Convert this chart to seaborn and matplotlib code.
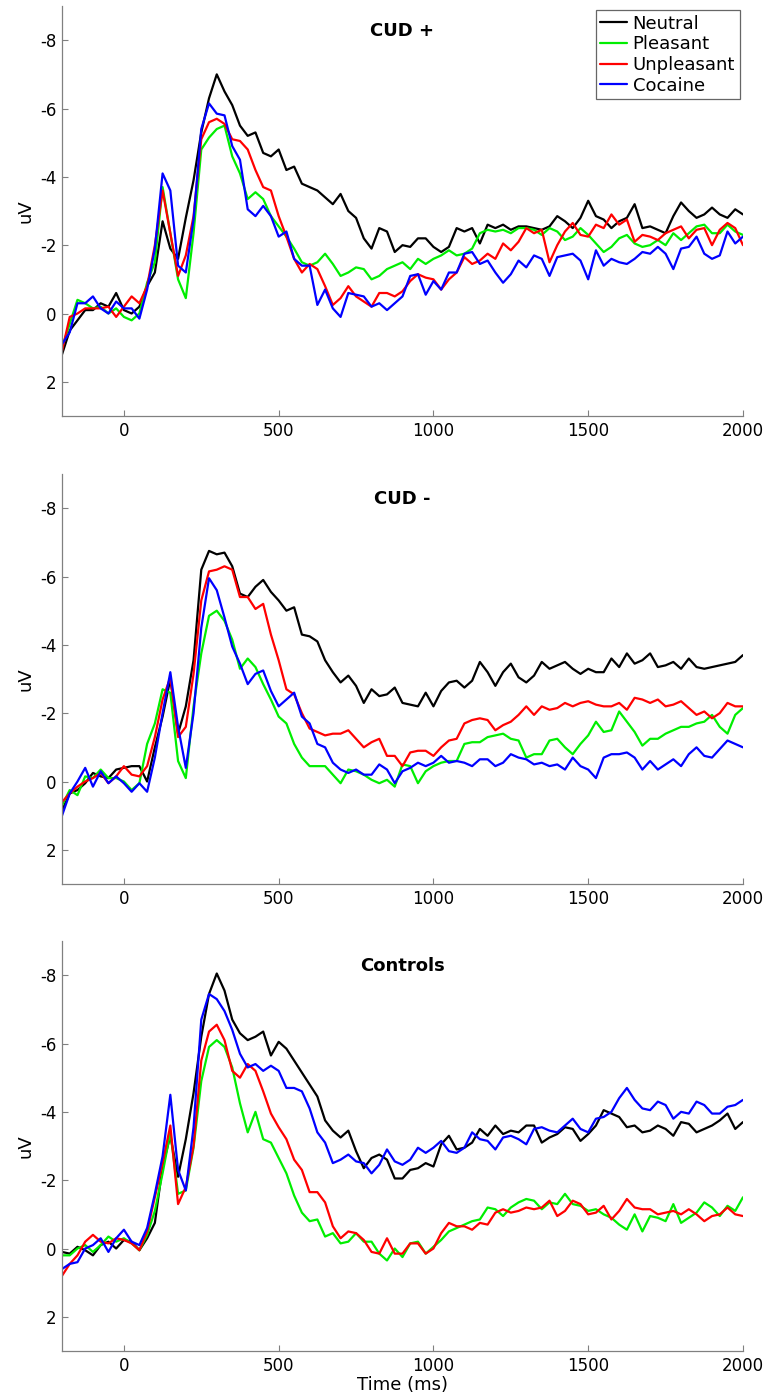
import matplotlib
matplotlib.use("Agg")
import matplotlib.pyplot as plt
import pandas as pd
import seaborn as sns

# Grand-average ERP waveforms (uV), sampled every 25 ms from -200 to 2000 ms
time_ms = list(range(-200, 2001, 25))
conditions = ["Neutral", "Pleasant", "Unpleasant", "Cocaine"]
line_colors = ["#000000", "#00ee00", "#ff0000", "#0000ff"]
panel_titles = ["CUD +", "CUD -", "Controls"]
x_ticks = [0, 500, 1000, 1500, 2000]
y_ticks = [-8, -6, -4, -2, 0, 2]

# ---- CUD + ----
cudp_neutral = [
    1.2, 0.5, 0.2, -0.1, -0.1, -0.3, -0.2, -0.6,
    -0.1, 0.0, -0.2, -0.8, -1.2, -2.7, -1.9, -1.6,
    -2.8, -3.9, -5.3, -6.3, -7.0, -6.5, -6.1, -5.5,
    -5.2, -5.3, -4.7, -4.6, -4.8, -4.2, -4.3, -3.8,
    -3.7, -3.6, -3.4, -3.2, -3.5, -3.0, -2.8, -2.2,
    -1.9, -2.5, -2.4, -1.8, -2.0, -1.95, -2.2, -2.2,
    -1.95, -1.8, -1.95, -2.5, -2.4, -2.5, -2.05, -2.6,
    -2.5, -2.6, -2.45, -2.55, -2.55, -2.5, -2.45, -2.55,
    -2.85, -2.7, -2.5, -2.8, -3.3, -2.85, -2.75, -2.5,
    -2.7, -2.8, -3.2, -2.5, -2.55, -2.45, -2.35, -2.85,
    -3.25, -3.0, -2.8, -2.9, -3.1, -2.9, -2.8, -3.05,
    -2.9]
cudp_pleasant = [
    1.0, 0.3, -0.4, -0.3, -0.15, -0.2, 0.0, -0.15,
    0.1, 0.2, 0.0, -0.9, -1.5, -3.7, -2.35, -1.0,
    -0.45, -2.35, -4.8, -5.15, -5.4, -5.5, -4.6, -4.1,
    -3.35, -3.55, -3.35, -2.85, -2.55, -2.25, -1.9, -1.5,
    -1.4, -1.5, -1.75, -1.45, -1.1, -1.2, -1.35, -1.3,
    -1.0, -1.1, -1.3, -1.4, -1.5, -1.3, -1.6, -1.45,
    -1.6, -1.7, -1.85, -1.7, -1.75, -1.9, -2.35, -2.45,
    -2.4, -2.45, -2.35, -2.5, -2.5, -2.45, -2.3, -2.5,
    -2.4, -2.15, -2.25, -2.5, -2.3, -2.05, -1.8, -1.95,
    -2.2, -2.3, -2.05, -1.95, -2.0, -2.15, -2.0, -2.35,
    -2.15, -2.35, -2.55, -2.6, -2.35, -2.35, -2.6, -2.4,
    -2.3]
cudp_unpleasant = [
    1.1, 0.1, 0.0, -0.15, -0.15, -0.15, -0.2, 0.1,
    -0.2, -0.5, -0.3, -0.8, -2.0, -3.6, -2.35, -1.1,
    -1.7, -2.85, -5.1, -5.6, -5.7, -5.55, -5.1, -5.05,
    -4.8, -4.2, -3.7, -3.6, -2.85, -2.25, -1.6, -1.2,
    -1.45, -1.3, -0.8, -0.25, -0.45, -0.8, -0.5, -0.35,
    -0.2, -0.6, -0.6, -0.5, -0.65, -0.95, -1.15, -1.05,
    -1.0, -0.7, -1.0, -1.2, -1.65, -1.45, -1.55, -1.75,
    -1.6, -2.05, -1.85, -2.1, -2.5, -2.35, -2.45, -1.5,
    -2.0, -2.4, -2.65, -2.3, -2.25, -2.6, -2.5, -2.9,
    -2.6, -2.75, -2.1, -2.3, -2.25, -2.15, -2.35, -2.45,
    -2.55, -2.2, -2.45, -2.5, -2.0, -2.45, -2.65, -2.5,
    -2.0]
cudp_cocaine = [
    0.9, 0.55, -0.3, -0.3, -0.5, -0.15, 0.0, -0.35,
    -0.15, -0.15, 0.15, -0.7, -1.9, -4.1, -3.6, -1.4,
    -1.2, -2.75, -5.4, -6.15, -5.85, -5.8, -4.9, -4.5,
    -3.05, -2.85, -3.15, -2.85, -2.25, -2.4, -1.6, -1.4,
    -1.4, -0.25, -0.7, -0.15, 0.1, -0.6, -0.55, -0.5,
    -0.2, -0.3, -0.1, -0.3, -0.5, -1.1, -1.15, -0.55,
    -0.95, -0.7, -1.2, -1.2, -1.75, -1.8, -1.45, -1.55,
    -1.2, -0.9, -1.15, -1.55, -1.35, -1.7, -1.6, -1.1,
    -1.65, -1.7, -1.75, -1.55, -1.0, -1.85, -1.4, -1.6,
    -1.5, -1.45, -1.6, -1.8, -1.75, -1.95, -1.75, -1.3,
    -1.9, -1.95, -2.25, -1.75, -1.6, -1.7, -2.4, -2.05,
    -2.25]

# ---- CUD - ----
cudm_neutral = [
    0.85, 0.35, 0.25, 0.05, -0.25, -0.15, -0.1, -0.35,
    -0.4, -0.45, -0.45, 0.0, -1.0, -1.9, -3.0, -1.4,
    -2.2, -3.55, -6.2, -6.75, -6.65, -6.7, -6.3, -5.5,
    -5.4, -5.7, -5.9, -5.55, -5.3, -5.0, -5.1, -4.3,
    -4.25, -4.1, -3.55, -3.2, -2.9, -3.1, -2.8, -2.3,
    -2.7, -2.5, -2.55, -2.75, -2.3, -2.25, -2.2, -2.6,
    -2.2, -2.65, -2.9, -2.95, -2.75, -2.95, -3.5, -3.2,
    -2.8, -3.2, -3.45, -3.05, -2.9, -3.1, -3.5, -3.3,
    -3.4, -3.5, -3.3, -3.15, -3.3, -3.2, -3.2, -3.6,
    -3.35, -3.75, -3.45, -3.55, -3.75, -3.35, -3.4, -3.5,
    -3.3, -3.6, -3.35, -3.3, -3.35, -3.4, -3.45, -3.5,
    -3.7]
cudm_pleasant = [
    0.7, 0.25, 0.4, -0.15, -0.1, -0.35, -0.1, -0.1,
    0.0, 0.25, 0.05, -1.1, -1.7, -2.7, -2.6, -0.6,
    -0.1, -2.2, -3.75, -4.85, -5.0, -4.7, -4.15, -3.3,
    -3.6, -3.35, -2.85, -2.4, -1.9, -1.7, -1.1, -0.7,
    -0.45, -0.45, -0.45, -0.2, 0.05, -0.35, -0.3, -0.2,
    -0.05, 0.05, -0.05, 0.15, -0.5, -0.45, 0.05, -0.3,
    -0.45, -0.55, -0.6, -0.6, -1.1, -1.15, -1.15, -1.3,
    -1.35, -1.4, -1.25, -1.2, -0.7, -0.8, -0.8, -1.2,
    -1.25, -1.0, -0.8, -1.1, -1.35, -1.75, -1.45, -1.5,
    -2.05, -1.75, -1.45, -1.05, -1.25, -1.25, -1.4, -1.5,
    -1.6, -1.6, -1.7, -1.75, -1.95, -1.6, -1.4, -1.95,
    -2.15]
cudm_unpleasant = [
    0.6, 0.35, 0.15, 0.0, -0.1, -0.25, 0.05, -0.15,
    -0.45, -0.2, -0.15, -0.45, -1.3, -2.4, -3.05, -1.3,
    -1.6, -3.15, -5.3, -6.15, -6.2, -6.3, -6.2, -5.4,
    -5.4, -5.05, -5.2, -4.3, -3.55, -2.7, -2.55, -2.0,
    -1.55, -1.45, -1.35, -1.4, -1.4, -1.5, -1.25, -1.0,
    -1.15, -1.25, -0.75, -0.75, -0.45, -0.85, -0.9, -0.9,
    -0.75, -1.0, -1.2, -1.25, -1.7, -1.8, -1.85, -1.8,
    -1.5, -1.65, -1.75, -1.95, -2.2, -1.95, -2.2, -2.1,
    -2.15, -2.3, -2.2, -2.3, -2.35, -2.25, -2.2, -2.2,
    -2.3, -2.1, -2.45, -2.4, -2.3, -2.4, -2.2, -2.25,
    -2.35, -2.15, -1.95, -2.05, -1.85, -2.0, -2.3, -2.2,
    -2.2]
cudm_cocaine = [
    1.0, 0.35, 0.0, -0.4, 0.15, -0.3, 0.05, -0.15,
    0.05, 0.3, 0.05, 0.3, -0.7, -2.0, -3.2, -1.6,
    -0.4, -2.0, -4.5, -5.95, -5.6, -4.8, -3.95, -3.45,
    -2.85, -3.15, -3.25, -2.65, -2.2, -2.4, -2.6, -1.9,
    -1.7, -1.1, -1.0, -0.55, -0.35, -0.25, -0.35, -0.2,
    -0.2, -0.5, -0.35, 0.05, -0.3, -0.4, -0.55, -0.45,
    -0.55, -0.75, -0.55, -0.6, -0.55, -0.45, -0.65, -0.65,
    -0.45, -0.55, -0.8, -0.7, -0.65, -0.5, -0.55, -0.45,
    -0.5, -0.35, -0.7, -0.45, -0.35, -0.1, -0.7, -0.8,
    -0.8, -0.85, -0.7, -0.35, -0.6, -0.35, -0.5, -0.65,
    -0.45, -0.8, -1.0, -0.75, -0.7, -0.95, -1.2, -1.1,
    -1.0]

# ---- Controls ----
ctrl_neutral = [
    0.1, 0.15, -0.05, 0.05, 0.2, -0.1, -0.2, 0.0,
    -0.25, -0.2, 0.05, -0.3, -0.75, -2.4, -3.3, -2.1,
    -3.2, -4.55, -6.2, -7.45, -8.05, -7.55, -6.7, -6.3,
    -6.1, -6.2, -6.35, -5.65, -6.05, -5.85, -5.5, -5.15,
    -4.8, -4.45, -3.75, -3.45, -3.25, -3.45, -2.85, -2.35,
    -2.65, -2.75, -2.6, -2.05, -2.05, -2.3, -2.35, -2.5,
    -2.4, -3.05, -3.3, -2.9, -2.95, -3.1, -3.5, -3.3,
    -3.6, -3.35, -3.45, -3.4, -3.6, -3.6, -3.1, -3.25,
    -3.35, -3.55, -3.5, -3.15, -3.35, -3.6, -4.05, -3.95,
    -3.85, -3.55, -3.6, -3.4, -3.45, -3.6, -3.5, -3.3,
    -3.7, -3.65, -3.4, -3.5, -3.6, -3.75, -3.95, -3.5,
    -3.7]
ctrl_pleasant = [
    0.2, 0.2, 0.0, -0.1, 0.1, -0.1, -0.35, -0.2,
    -0.3, -0.15, 0.05, -0.4, -1.1, -2.2, -3.4, -1.6,
    -1.7, -2.95, -4.9, -5.9, -6.1, -5.9, -5.3, -4.25,
    -3.4, -4.0, -3.2, -3.1, -2.65, -2.2, -1.55, -1.05,
    -0.8, -0.85, -0.35, -0.45, -0.15, -0.2, -0.45, -0.2,
    -0.2, 0.15, 0.35, 0.0, 0.25, -0.15, -0.2, 0.15,
    -0.05, -0.25, -0.5, -0.6, -0.7, -0.8, -0.85, -1.2,
    -1.15, -0.95, -1.2, -1.35, -1.45, -1.4, -1.15, -1.35,
    -1.3, -1.6, -1.3, -1.25, -1.1, -1.15, -1.0, -0.9,
    -0.7, -0.55, -1.0, -0.5, -0.95, -0.9, -0.8, -1.3,
    -0.75, -0.9, -1.05, -1.35, -1.2, -0.95, -1.25, -1.1,
    -1.5]
ctrl_unpleasant = [
    0.8, 0.45, 0.2, -0.2, -0.4, -0.2, -0.15, -0.3,
    -0.25, -0.15, 0.05, -0.5, -1.5, -2.5, -3.6, -1.3,
    -1.8, -3.0, -5.5, -6.35, -6.55, -6.1, -5.2, -5.0,
    -5.4, -5.2, -4.6, -3.95, -3.55, -3.2, -2.6, -2.3,
    -1.65, -1.65, -1.35, -0.65, -0.3, -0.5, -0.45, -0.25,
    0.1, 0.15, -0.3, 0.15, 0.15, -0.15, -0.15, 0.15,
    0.0, -0.45, -0.75, -0.65, -0.65, -0.55, -0.75, -0.7,
    -1.05, -1.15, -1.05, -1.1, -1.2, -1.15, -1.2, -1.4,
    -0.95, -1.1, -1.4, -1.3, -1.0, -1.05, -1.25, -0.85,
    -1.1, -1.45, -1.2, -1.15, -1.15, -1.0, -1.05, -1.1,
    -1.0, -1.15, -1.0, -0.8, -0.95, -1.0, -1.2, -1.0,
    -0.95]
ctrl_cocaine = [
    0.6, 0.45, 0.4, 0.0, -0.1, -0.3, 0.1, -0.3,
    -0.55, -0.2, -0.1, -0.6, -1.6, -2.7, -4.5, -2.3,
    -1.7, -3.55, -6.7, -7.45, -7.3, -6.95, -6.4, -5.7,
    -5.3, -5.4, -5.2, -5.35, -5.2, -4.7, -4.7, -4.6,
    -4.1, -3.4, -3.1, -2.5, -2.6, -2.75, -2.55, -2.5,
    -2.2, -2.45, -2.9, -2.55, -2.45, -2.6, -2.95, -2.8,
    -2.95, -3.15, -2.85, -2.8, -2.95, -3.4, -3.2, -3.15,
    -2.9, -3.25, -3.3, -3.2, -3.05, -3.5, -3.55, -3.45,
    -3.4, -3.6, -3.8, -3.5, -3.4, -3.8, -3.85, -4.0,
    -4.4, -4.7, -4.35, -4.1, -4.05, -4.3, -4.2, -3.8,
    -4.0, -3.95, -4.3, -4.2, -3.95, -3.95, -4.15, -4.2,
    -4.35]

panels = [
    [cudp_neutral, cudp_pleasant, cudp_unpleasant, cudp_cocaine],
    [cudm_neutral, cudm_pleasant, cudm_unpleasant, cudm_cocaine],
    [ctrl_neutral, ctrl_pleasant, ctrl_unpleasant, ctrl_cocaine],
]

sns.set_style("ticks")
plt.rcParams["font.family"] = ["DejaVu Sans"]
plt.rcParams["axes.unicode_minus"] = False
plt.rcParams["text.color"] = "black"
plt.rcParams["axes.labelcolor"] = "black"

spine_gray = "#808080"
fig = plt.figure(figsize=(7.72, 13.93), dpi=100)
panel_bottoms = [0.70137, 0.36540, 0.03015]
palette = dict(zip(conditions, line_colors))

for idx, (series, title) in enumerate(zip(panels, panel_titles)):
    ax = fig.add_axes([0.0803, panel_bottoms[idx], 0.8821, 0.2943])
    wide = pd.DataFrame({"time": time_ms})
    for name, values in zip(conditions, series):
        wide[name] = values
    long = wide.melt(id_vars="time", var_name="condition", value_name="amplitude")
    sns.lineplot(data=long, x="time", y="amplitude", hue="condition",
                 hue_order=conditions, palette=palette, linewidth=1.6,
                 errorbar=None, legend=(idx == 0), ax=ax)

    ax.set_xlim(-200, 2000)
    ax.set_ylim(3, -9)
    ax.set_xticks(x_ticks)
    ax.set_yticks(y_ticks)
    ax.tick_params(direction="in", length=4, width=0.8, color=spine_gray,
                   labelsize=12, labelcolor="black", pad=4)
    for side in ("top", "right"):
        ax.spines[side].set_visible(False)
    for side in ("left", "bottom"):
        ax.spines[side].set_color(spine_gray)
        ax.spines[side].set_linewidth(0.9)

    ax.set_ylabel("uV", fontsize=13, color="black")
    ax.set_xlabel("Time (ms)" if idx == 2 else "", fontsize=13, labelpad=1,
                  color="black")
    ax.text(0.5, 0.94, title, transform=ax.transAxes, ha="center",
            va="center", fontsize=13, fontweight="bold", color="black")

    if idx == 0:
        sns.move_legend(ax, "upper right", bbox_to_anchor=(0.995, 0.99),
                        title=None, frameon=True, fancybox=False,
                        fontsize=13, labelspacing=0.15, borderpad=0.25,
                        handlelength=1.5, handletextpad=0.3, borderaxespad=0)
        leg = ax.get_legend()
        leg.get_frame().set_edgecolor("#666666")
        leg.get_frame().set_linewidth(0.9)
        leg.get_frame().set_alpha(1)
        for text in leg.get_texts():
            text.set_color("black")
        for line in leg.get_lines():
            line.set_linewidth(1.6)

fig.savefig("out.png", dpi=100)
